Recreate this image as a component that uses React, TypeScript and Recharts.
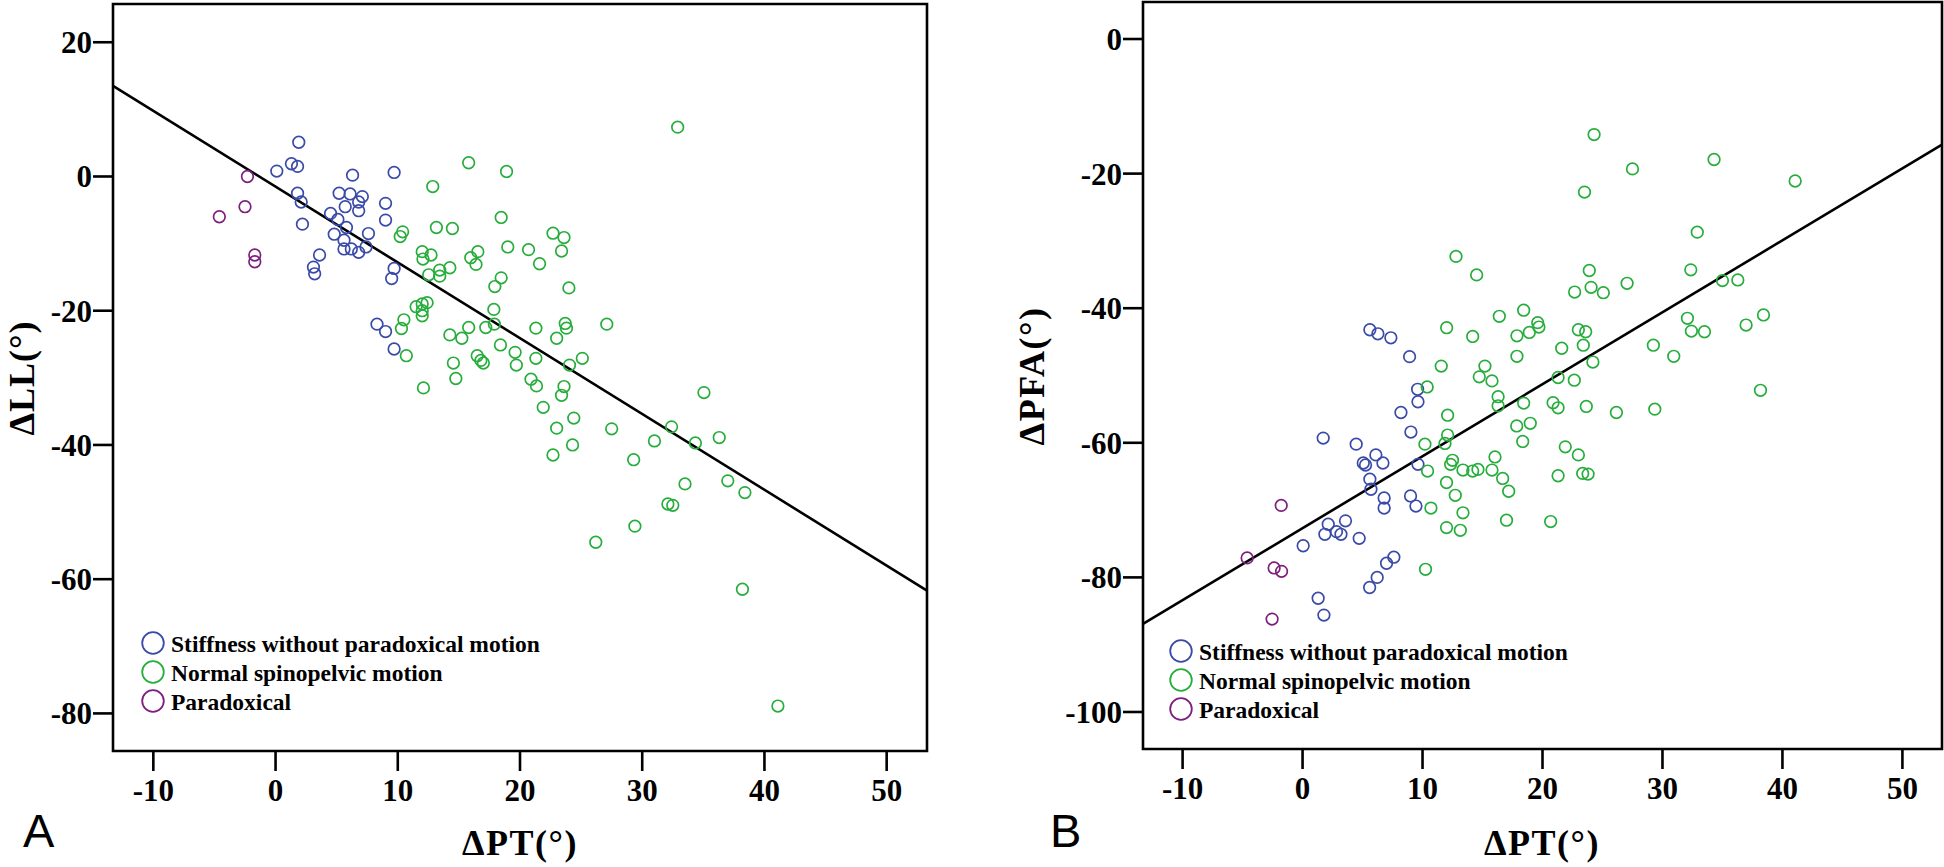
import React from "react";
import { ScatterChart, Scatter, XAxis, YAxis, ReferenceLine, ReferenceArea } from "recharts";

// ---------- data ----------
const seriesNames = ["Stiffness without paradoxical motion", "Normal spinopelvic motion", "Paradoxical"];
const seriesColors = ["#3a4aa8", "#27ad3c", "#7d1f7d"];

const xTicks = [-10, 0, 10, 20, 30, 40, 50];
const yTicksA = [-80, -60, -40, -20, 0, 20];
const yTicksB = [-100, -80, -60, -40, -20, 0];
const xDomain = [-13.3, 53.3];
const yDomainA = [-85.6, 25.7];
const yDomainB = [-105.5, 5.5];

// Panel A: ΔPT vs ΔLL
const aStiffness = [
  [1.9, 5.1], [0.1, 0.8], [1.3, 1.9], [1.8, 1.5], [6.3, 0.2], [9.7, 0.6], [1.8, -2.5], [2.1, -3.8],
  [2.2, -7.1], [5.2, -2.5], [6.1, -2.6], [7.1, -3.0], [6.8, -3.8], [5.7, -4.5], [6.8, -5.1], [9.0, -4.0],
  [9.0, -6.5], [4.5, -5.5], [5.1, -6.4], [5.8, -7.6], [4.8, -8.6], [7.6, -8.5], [5.6, -9.5], [5.6, -10.8],
  [6.2, -10.8], [6.8, -11.3], [7.4, -10.5], [3.6, -11.7], [3.1, -13.5], [3.2, -14.5], [9.7, -13.7],
  [9.5, -15.2], [8.3, -22.0], [9.0, -23.1], [9.7, -25.7],
];
const aNormal = [
  [15.8, 2.05], [12.86, -1.5], [18.9, 0.75], [18.46, -6.1], [13.16, -7.6], [14.47, -7.75], [10.4, -8.25],
  [10.2, -8.95], [12.0, -11.2], [12.72, -11.7], [12.06, -12.3], [15.97, -12.1], [16.55, -11.2], [16.4, -13.1],
  [14.26, -13.6], [13.43, -13.95], [12.53, -14.65], [13.43, -14.85], [17.94, -16.4], [18.46, -15.1],
  [24.0, -16.6], [19.0, -10.5], [20.7, -10.9], [21.6, -13.0], [22.7, -8.45], [23.6, -9.1], [23.4, -11.1],
  [17.86, -19.8], [11.5, -19.4], [12.0, -19.0], [12.4, -18.8], [12.0, -20.0], [12.0, -20.75], [10.5, -21.35],
  [10.3, -22.65], [10.7, -26.7], [14.26, -23.6], [15.24, -24.1], [15.8, -22.5], [17.2, -22.5], [17.9, -22.0],
  [18.4, -25.1], [19.6, -26.2], [19.7, -28.1], [21.3, -22.6], [23.0, -24.1], [23.7, -21.9], [23.8, -22.6],
  [27.1, -22.0], [21.3, -27.1], [24.05, -28.1], [25.1, -27.1], [16.5, -26.7], [16.8, -27.4], [17.0, -27.8],
  [14.55, -27.8], [14.75, -30.1], [12.1, -31.5], [20.9, -30.2], [21.35, -31.2], [23.6, -31.3], [23.4, -32.6],
  [21.9, -34.4], [24.4, -36.0], [23.0, -37.5], [27.5, -37.6], [24.3, -40.0], [22.7, -41.5], [35.05, -32.2],
  [32.4, -37.3], [31.0, -39.4], [34.35, -39.7], [36.3, -38.9], [32.9, 7.35], [29.3, -42.2], [33.5, -45.8],
  [37.0, -45.35], [38.4, -47.1], [32.1, -48.8], [32.5, -49.0], [29.4, -52.1], [26.2, -54.5], [38.2, -61.5],
  [41.1, -78.9],
];
const aParadoxical = [[-2.3, 0.0], [-2.5, -4.5], [-4.6, -6.0], [-1.7, -11.7], [-1.7, -12.7]];
const aFit = [[-13.3, 13.5], [53.3, -61.7]];

// Panel B: ΔPT vs ΔPFA
const bStiffness = [
  [5.61, -43.2], [6.28, -43.8], [7.36, -44.4], [8.92, -47.2], [9.59, -52.05], [9.62, -53.9], [8.2, -55.5],
  [9.03, -58.4], [1.72, -59.3], [4.47, -60.2], [6.11, -61.8], [5.06, -63.0], [5.25, -63.3], [6.7, -63.0],
  [9.62, -63.2], [5.61, -65.4], [5.7, -66.9], [6.8, -68.2], [6.8, -69.7], [9.0, -67.9], [9.45, -69.4],
  [2.14, -72.1], [3.58, -71.6], [1.86, -73.6], [2.83, -73.2], [3.2, -73.6], [4.72, -74.2], [0.05, -75.3],
  [7.61, -77.0], [7.0, -77.9], [6.22, -80.0], [5.59, -81.5], [1.3, -83.1], [1.78, -85.6],
];
const bNormal = [
  [12.79, -32.3], [14.51, -35.05], [12.01, -42.9], [14.18, -44.2], [16.4, -41.2], [11.56, -48.6], [15.2, -48.6],
  [14.73, -50.2], [15.79, -50.8], [10.39, -51.7], [16.3, -53.15], [16.3, -54.5], [12.09, -55.9], [12.09, -58.85],
  [10.2, -60.2], [11.87, -60.1], [22.68, -37.6], [24.05, -36.9], [23.9, -34.4], [18.43, -40.3], [17.87, -44.1],
  [18.9, -43.6], [19.6, -42.15], [19.7, -42.8], [22.99, -43.2], [23.6, -43.5], [21.6, -45.95], [23.4, -45.5],
  [24.2, -48.0], [17.87, -47.15], [21.3, -50.3], [22.65, -50.7], [18.43, -54.1], [20.88, -54.05], [21.3, -54.8],
  [23.65, -54.6], [17.85, -57.5], [18.98, -57.1], [18.35, -59.8], [21.9, -60.6], [22.99, -61.8], [16.04, -62.1],
  [12.5, -62.6], [12.34, -63.2], [13.37, -64.05], [14.18, -64.2], [14.62, -63.95], [15.79, -64.05],
  [16.68, -65.3], [10.42, -64.2], [21.3, -64.9], [23.35, -64.55], [23.8, -64.65], [12.0, -65.9], [12.73, -67.8],
  [17.18, -67.2], [10.7, -69.7], [13.37, -70.4], [12.0, -72.6], [13.15, -73.0], [17.0, -71.5], [20.68, -71.7],
  [10.25, -78.8], [24.3, -14.2], [34.3, -17.9], [27.5, -19.3], [23.5, -22.75], [41.06, -21.1], [32.9, -28.7],
  [25.07, -37.7], [27.05, -36.3], [32.36, -34.3], [35.0, -35.9], [36.28, -35.8], [29.24, -45.5], [30.94, -47.15],
  [32.08, -41.5], [32.41, -43.4], [33.5, -43.5], [36.97, -42.5], [38.42, -41.0], [38.17, -52.2], [29.36, -55.0],
  [26.16, -55.5],
];
const bParadoxical = [[-1.78, -69.3], [-4.62, -77.1], [-2.37, -78.6], [-1.75, -79.1], [-2.54, -86.2]];
const bFit = [[-13.3, -86.9], [53.3, -15.7]];

// ---------- helpers ----------
const toPts = (arr: number[][]) => arr.map(([x, y]) => ({ x, y }));
const SERIF = '"Liberation Serif", "Times New Roman", serif';
const SANS = '"Liberation Sans", Arial, sans-serif';

const makeShape = (color: string) => (props: any) => {
  const { cx, cy } = props;
  if (cx == null || cy == null) return <g />;
  return <circle cx={cx} cy={cy} r={5.8} fill="none" stroke={color} strokeWidth={1.7} />;
};

const tickStyle = { fill: "#000", fontSize: 31, fontWeight: "bold", fontFamily: SERIF } as any;
const tickLineStyle = { stroke: "#000", strokeWidth: 2.6 };

type PanelProps = {
  left: number;
  width: number;
  margin: { top: number; right: number; bottom: number; left: number };
  yWidth: number;
  xHeight: number;
  yDomain: number[];
  yTicks: number[];
  series: number[][][];
  fit: number[][];
};

function Panel(p: PanelProps) {
  return (
    <div style={{ position: "absolute", left: p.left, top: 0 }}>
      <ScatterChart width={p.width} height={867} margin={p.margin}>
        <XAxis
          type="number"
          dataKey="x"
          domain={xDomain}
          ticks={xTicks}
          allowDataOverflow
          axisLine={false}
          tickLine={tickLineStyle}
          tickSize={20}
          tickMargin={8}
          tick={tickStyle}
          height={p.xHeight}
          interval={0}
        />
        <YAxis
          type="number"
          dataKey="y"
          domain={p.yDomain}
          ticks={p.yTicks}
          allowDataOverflow
          axisLine={false}
          tickLine={tickLineStyle}
          tickSize={20}
          tickMargin={1}
          tick={tickStyle}
          width={p.yWidth}
          interval={0}
        />
        <ReferenceArea
          x1={xDomain[0]}
          x2={xDomain[1]}
          y1={p.yDomain[0]}
          y2={p.yDomain[1]}
          fill="none"
          fillOpacity={0}
          stroke="#000"
          strokeWidth={2.6}
          ifOverflow="visible"
        />
        {p.series.map((s, i) => (
          <Scatter
            key={i}
            name={seriesNames[i]}
            data={toPts(s)}
            shape={makeShape(seriesColors[i])}
            isAnimationActive={false}
          />
        ))}
        <ReferenceLine
          segment={[{ x: p.fit[0][0], y: p.fit[0][1] }, { x: p.fit[1][0], y: p.fit[1][1] }]}
          stroke="#000"
          strokeWidth={2.6}
          ifOverflow="visible"
        />
      </ScatterChart>
    </div>
  );
}

function Legend({ x, y }: { x: number; y: number }) {
  return (
    <g>
      {seriesNames.map((name, i) => (
        <g key={name}>
          <circle cx={x} cy={y + i * 29} r={10.8} fill="none" stroke={seriesColors[i]} strokeWidth={1.8} />
          <text
            x={x + 18}
            y={y + i * 29 + 8.5}
            fontFamily={SERIF}
            fontWeight="bold"
            fontSize={23.5}
            fill="#000"
          >
            {name}
          </text>
        </g>
      ))}
    </g>
  );
}

export default function App() {
  return (
    <div style={{ position: "absolute", left: 0, top: 0, width: 1944, height: 867, background: "#fff", overflow: "hidden" }}>
      <Panel
        left={0}
        width={972}
        margin={{ top: 4, right: 45, bottom: 0, left: 0 }}
        yWidth={113}
        xHeight={116}
        yDomain={yDomainA}
        yTicks={yTicksA}
        series={[aStiffness, aNormal, aParadoxical]}
        fit={aFit}
      />
      <Panel
        left={972}
        width={972}
        margin={{ top: 2, right: 2, bottom: 0, left: 0 }}
        yWidth={171}
        xHeight={118}
        yDomain={yDomainB}
        yTicks={yTicksB}
        series={[bStiffness, bNormal, bParadoxical]}
        fit={bFit}
      />
      <svg
        width={1944}
        height={867}
        style={{ position: "absolute", left: 0, top: 0, pointerEvents: "none" }}
      >
        <Legend x={153} y={643} />
        <Legend x={1181} y={651} />
        <text x={520} y={855} textAnchor="middle" fontFamily={SERIF} fontWeight="bold" fontSize={36} letterSpacing={1.5} fill="#000">
          ΔPT(°)
        </text>
        <text x={1542} y={855} textAnchor="middle" fontFamily={SERIF} fontWeight="bold" fontSize={36} letterSpacing={1.5} fill="#000">
          ΔPT(°)
        </text>
        <text
          transform="translate(34,378) rotate(-90)"
          textAnchor="middle"
          fontFamily={SERIF}
          fontWeight="bold"
          fontSize={36}
          letterSpacing={1}
          fill="#000"
        >
          ΔLL(°)
        </text>
        <text
          transform="translate(1044,376) rotate(-90)"
          textAnchor="middle"
          fontFamily={SERIF}
          fontWeight="bold"
          fontSize={36}
          letterSpacing={1.5}
          fill="#000"
        >
          ΔPFA(°)
        </text>
        <text x={23} y={847} fontFamily={SANS} fontSize={47} fill="#000">A</text>
        <text x={1050} y={847} fontFamily={SANS} fontSize={47} fill="#000">B</text>
      </svg>
    </div>
  );
}
